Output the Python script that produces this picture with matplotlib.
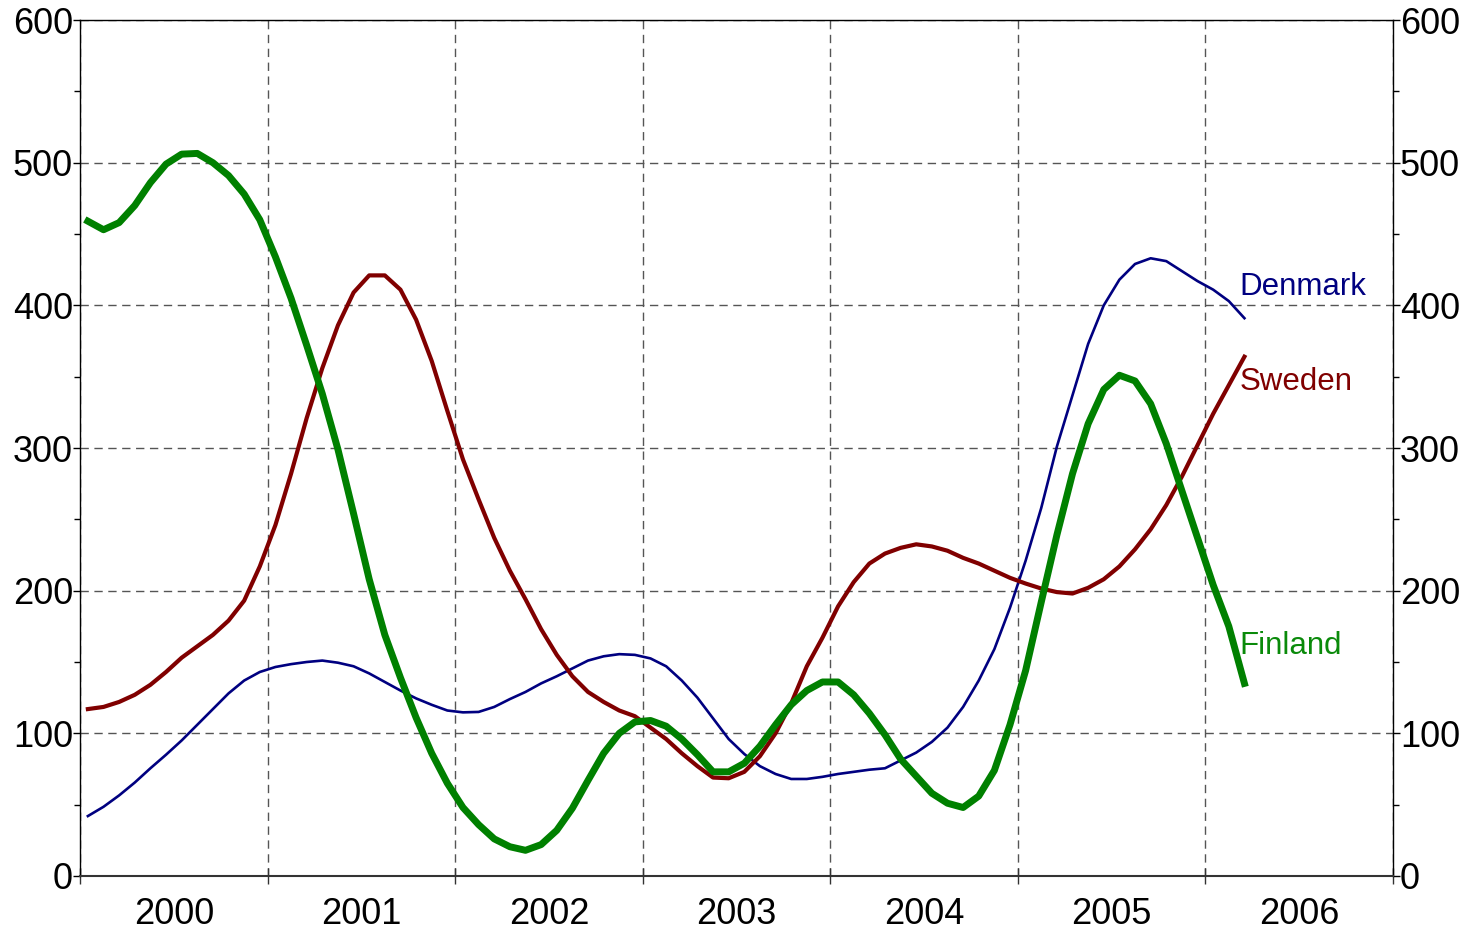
import numpy as np
import matplotlib
matplotlib.use("Agg")
import matplotlib.pyplot as plt
from matplotlib.ticker import FixedLocator, NullFormatter, FixedFormatter

plt.rcParams['font.family'] = ['Liberation Sans', 'DejaVu Sans']

# monthly values, Jan 2000 - Mar 2006
denmark = [42, 48.5, 56.5, 65.5, 75.5, 85, 95, 106, 117, 128, 137, 143,
           146.5, 148.5, 150, 151, 149.5, 147, 142, 136, 130, 124.5, 120, 116,
           114.7, 115, 118.5, 124, 129, 135, 140, 145.5, 151, 154, 155.5, 155,
           152.5, 147, 137, 125, 110.5, 96, 85.5, 77, 71.5, 68, 68, 69.5,
           71.5, 73, 74.5, 75.5, 81, 86.5, 94, 104, 118.5, 137, 159, 188,
           221, 258, 301, 337, 373, 400, 418, 429, 433, 431, 424, 417,
           411, 403, 391]
sweden = [117, 118.5, 122, 127, 134, 143, 153, 161, 169, 179, 193, 217,
          246, 282, 321, 356, 386, 409, 421, 421, 411, 390, 361, 326,
          292, 264, 237, 214, 194, 173, 155, 140, 129, 122, 116, 112,
          104, 96, 86, 77, 69, 68.5, 73, 84, 100, 121, 147, 167,
          189, 206, 219, 226, 230, 232.5, 231, 228, 223, 219, 214, 209,
          205, 201.5, 199, 198, 202, 208, 217, 229, 243, 260, 280, 302,
          324, 344, 364]
finland = [459, 453, 458, 470, 486, 499, 506, 506.5, 500, 491, 478, 460,
           434, 405, 372, 338, 299, 254, 208, 169, 139, 111, 86, 65,
           48, 36, 26, 20.5, 18, 22, 32, 47.5, 67, 86, 100, 108,
           109, 105, 96, 85, 73, 73, 79, 91, 106, 120, 130, 136,
           136, 127, 114, 99, 82, 70, 58, 51, 48, 56, 74, 106,
           144, 192, 239, 282, 317, 341, 351, 347, 331, 303, 270, 237,
           204, 175, 135]
years = ['2000', '2001', '2002', '2003', '2004', '2005', '2006']

c_dk = '#000080'
c_se = '#800000'
c_fi = '#008000'

fig = plt.figure(figsize=(14.69, 9.32), dpi=100)
ax = fig.add_axes([0.0545, 0.0601, 0.8937, 0.9184])

months = np.arange(len(denmark))
ax.plot(months, denmark, color=c_dk, lw=1.9, zorder=3)
ax.plot(months, sweden, color=c_se, lw=3.0, zorder=3)
ax.plot(months, finland, color=c_fi, lw=5.0, zorder=4)

ax.text(73.7, 413, 'Denmark', color=c_dk, fontsize=22.5, ha='left', va='center')
ax.text(73.7, 346, 'Sweden', color=c_se, fontsize=22.5, ha='left', va='center')
ax.text(73.7, 161, 'Finland', color='#0a8a0a', fontsize=22.5, ha='left', va='center')

ax.set_xlim(-0.5, 12 * len(years) - 0.5)
ax.set_ylim(0, 600)

# year boundaries as major ticks, year names centred as minor ticks
ax.xaxis.set_major_locator(FixedLocator([-0.5 + 12 * k for k in range(len(years) + 1)]))
ax.xaxis.set_major_formatter(NullFormatter())
ax.xaxis.set_minor_locator(FixedLocator([5.5 + 12 * k for k in range(len(years))]))
ax.xaxis.set_minor_formatter(FixedFormatter(years))
ax.tick_params(axis='x', which='major', direction='inout', length=12, width=1, color='#333333')
ax.tick_params(axis='x', which='minor', length=0, pad=15, labelsize=26)

ax.set_yticks(np.arange(0, 601, 100))
ax.set_yticks(np.arange(50, 600, 100), minor=True)
ax.tick_params(axis='y', which='major', direction='out', length=5, width=1, labelsize=26,
               pad=0, left=True, right=True, labelleft=True, labelright=True)
ax.tick_params(axis='y', which='minor', direction='out', length=4, width=1, left=True, right=True)

ax.grid(True, which='major', color='#555555', lw=1, linestyle=(0, (6, 4)))
ax.set_axisbelow(True)

for side in ['top', 'left', 'right']:
    ax.spines[side].set_color('black')
    ax.spines[side].set_linewidth(1)
ax.spines['bottom'].set_color('#333333')
ax.spines['bottom'].set_linewidth(1.5)

fig.savefig('out.png', dpi=100)
